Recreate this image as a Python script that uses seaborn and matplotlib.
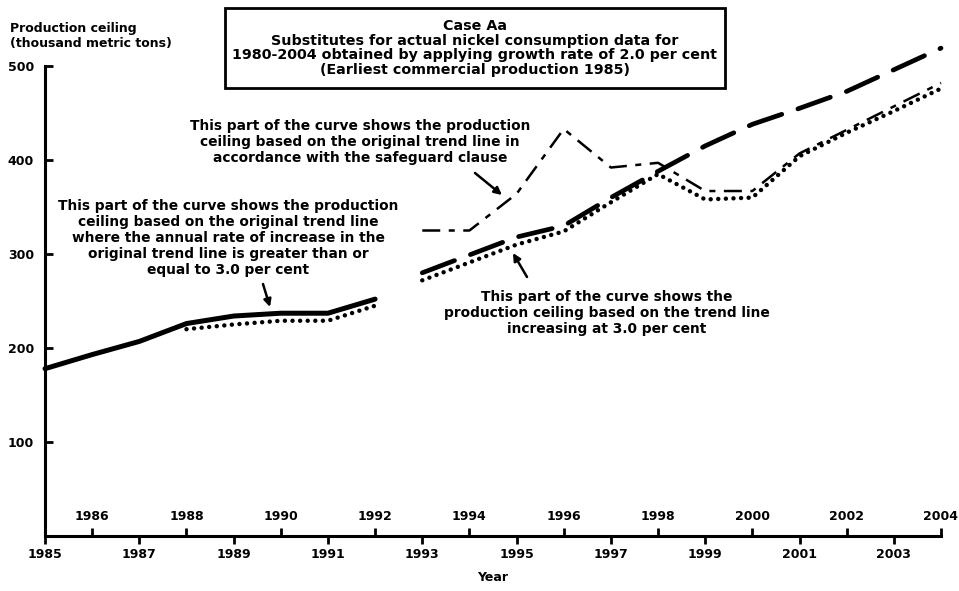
import numpy as np
import pandas as pd
import matplotlib.pyplot as plt
import seaborn as sns
from matplotlib.patches import Rectangle

# Data (thousand metric tons)
early_years = list(range(1985, 1993))
original_early = [178, 193, 207, 226, 234, 237, 237, 252]

trend3_early_years = list(range(1988, 1993))
trend3_early = [220, 225, 229, 229, 245]

late_years = list(range(1993, 2005))
trend3_late = [272, 291, 310, 324, 355, 385, 358, 360, 404, 429, 452, 476]
original_late = [280, 299, 318, 330, 360, 388, 415, 438, 455, 473, 496, 519]
safeguard_late = [325, 325, 364, 433, 392, 397, 367, 367, 407, 432, 457, 482]

odd_years = list(range(1985, 2005, 2))
even_years = list(range(1986, 2005, 2))
y_ticks = [100, 200, 300, 400, 500]

title_lines = [
    "Case Aa",
    "Substitutes for actual nickel consumption data for",
    "1980-2004 obtained by applying growth rate of 2.0 per cent",
    "(Earliest commercial production 1985)",
]

sns.set_style("ticks")
plt.rcParams['font.family'] = ['DejaVu Sans']
plt.rcParams['font.weight'] = 'bold'
for k in ['text.color', 'axes.labelcolor', 'xtick.color', 'ytick.color', 'axes.edgecolor']:
    plt.rcParams[k] = 'black'

W, H = 959, 591
fig = plt.figure(figsize=(W / 100, H / 100), dpi=100)
ax = fig.add_axes([45 / W, 1 - 536 / H, 896 / W, 470 / H])


# pixel position -> data coordinates (for placing notes)
def px(x, y):
    return 1985 + (x - 45) * 19 / 896, (536 - y) * 500 / 470


line_kw = dict(ax=ax, color='black', clip_on=False, legend=False)
dots = (0, (0.01, 1.7))

sns.lineplot(x=early_years, y=original_early, lw=3.6, solid_capstyle='round', **line_kw)
sns.lineplot(x=trend3_early_years, y=trend3_early, lw=3.2,
             linestyle=dots, dash_capstyle='round', **line_kw)
sns.lineplot(x=late_years, y=trend3_late, lw=3.2,
             linestyle=dots, dash_capstyle='round', **line_kw)
sns.lineplot(x=late_years, y=original_late, lw=3.4,
             linestyle=(0, (7.3, 3.6)), dash_capstyle='round', **line_kw)
sns.lineplot(x=late_years, y=safeguard_late, lw=1.8,
             linestyle=(0, (7.2, 3.4, 2.4, 3.4)), **line_kw)

ax.set_xlim(1985, 2004)
ax.set_ylim(0, 500)
sns.despine(ax=ax)
for s in ['left', 'bottom']:
    ax.spines[s].set_linewidth(2.2)

ax.set_yticks(y_ticks)
ax.set_yticklabels([str(v) for v in y_ticks])
ax.set_xticks(odd_years)
ax.set_xticklabels([str(y) for y in odd_years])
ax.set_xticks(even_years, minor=True)
ax.set_xticklabels([str(y) for y in even_years], minor=True)
ax.tick_params(axis='x', which='major', direction='out', length=6, width=2, pad=3, labelsize=9)
ax.tick_params(axis='x', which='minor', direction='in', length=6, width=2, pad=-19, labelsize=9)
ax.tick_params(axis='y', direction='in', length=6, width=2, pad=8, labelsize=9)
ax.set_xlabel("Year", fontsize=9, fontweight='bold', labelpad=7)
ax.set_ylabel("")

# axis title, top left
fig.text(10 / W, 1 - 22 / H, "Production ceiling\n(thousand metric tons)",
         ha='left', va='top', fontsize=9, fontweight='bold', linespacing=1.15)

# boxed title
fig.text(475 / W, 1 - 48 / H, "\n".join(title_lines), ha='center', va='center',
         fontsize=10.3, fontweight='bold', linespacing=1.05)
fig.patches.append(Rectangle((225 / W, 1 - 88 / H), 500 / W, 80 / H,
                             transform=fig.transFigure, fill=False,
                             edgecolor='black', lw=2))

arrow = dict(arrowstyle='-|>', color='black', lw=1.8, mutation_scale=11,
             shrinkA=0, shrinkB=0)

ax.text(*px(360, 142),
        "This part of the curve shows the production\n"
        "ceiling based on the original trend line in\n"
        "accordance with the safeguard clause",
        ha='center', va='center', fontsize=9.9, fontweight='bold', linespacing=1.2)
ax.annotate("", xy=px(502, 195), xytext=px(475, 173), arrowprops=arrow)

ax.text(*px(228, 238),
        "This part of the curve shows the production\n"
        "ceiling based on the original trend line\n"
        "where the annual rate of increase in the\n"
        "original trend line is greater than or\n"
        "equal to 3.0 per cent",
        ha='center', va='center', fontsize=9.9, fontweight='bold', linespacing=1.2)
ax.annotate("", xy=px(270, 307), xytext=px(263, 284), arrowprops=arrow)

ax.text(*px(607, 313),
        "This part of the curve shows the\n"
        "production ceiling based on the trend line\n"
        "increasing at 3.0 per cent",
        ha='center', va='center', fontsize=9.9, fontweight='bold', linespacing=1.2)
ax.annotate("", xy=px(513, 253), xytext=px(527, 277), arrowprops=arrow)

fig.savefig("out.png", dpi=100)
